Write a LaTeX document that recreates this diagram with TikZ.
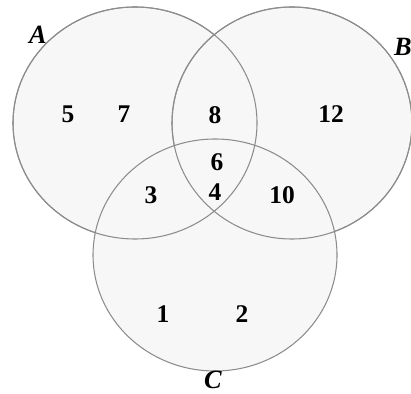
\documentclass[tikz,border=0pt]{standalone}
\usepackage{fontspec}
\setmainfont{Liberation Serif}
\usepackage{tikz}
\usetikzlibrary{positioning}
\tikzset{
  setline/.style={draw=black!45, fill=black!3, line width=0.6pt},
  setname/.style={font=\fontsize{15}{17}\selectfont\bfseries\itshape, inner sep=0pt},
  elem/.style={font=\fontsize{14.5}{16}\selectfont\bfseries, inner sep=0pt}
}
\begin{document}
\begin{tikzpicture}[x=0.02cm,y=-0.02cm]
  \useasboundingbox (0,0) rectangle (411,394);
  % the three sets
  \coordinate (cA) at (135,123);
  \coordinate (cB) at (292,123);
  \coordinate (cC) at (215,255);
  \path[setline] (cA) ellipse [x radius=122, y radius=116];
  \path[setline] (cB) ellipse [x radius=120, y radius=116];
  \path[setline] (cC) ellipse [x radius=122, y radius=116];
  \draw[draw=black!45, line width=0.6pt] (cA) ellipse [x radius=122, y radius=116];
  \draw[draw=black!45, line width=0.6pt] (cB) ellipse [x radius=120, y radius=116];
  \node[setname] (nameA) at (38,35) {A};
  \node[setname] (nameB) at (403,47) {B};
  \node[setname] (nameC) at (213,380) {C};
  % elements
  \node[elem] (e5) at (68,114) {5};
  \node[elem] (e7) at (124,114) {7};
  \node[elem] (e8) at (215,115) {8};
  \node[elem] (e12) at (331,114) {12};
  \node[elem] (e6) at (217,162) {6};
  \node[elem] (e3) at (151,195) {3};
  \node[elem] (e4) at (215,192) {4};
  \node[elem] (e10) at (282,195) {10};
  \node[elem] (e1) at (163,314) {1};
  \node[elem] (e2) at (242,314) {2};
\end{tikzpicture}
\end{document}
